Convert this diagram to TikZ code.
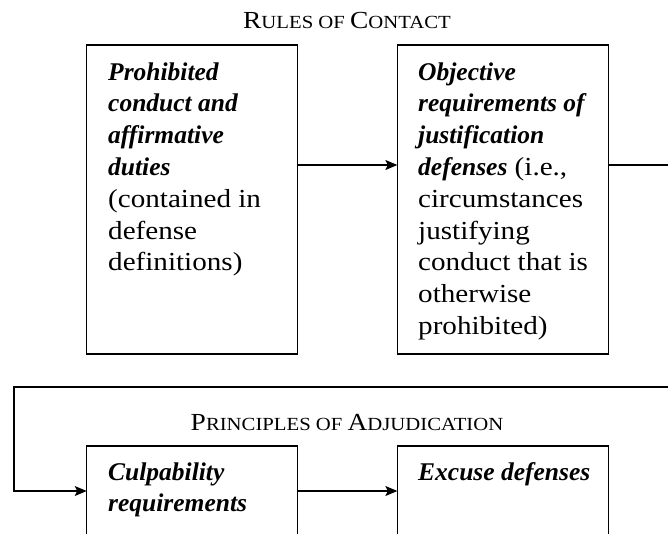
\documentclass[tikz,border=0pt]{standalone}
\usepackage{fontspec}
\setmainfont{Liberation Serif}[UprightFeatures={FakeStretch=1.12}]
\usetikzlibrary{arrows.meta}
\newcommand\bi[1]{{\fontsize{25.5}{31.8}\selectfont\bfseries\itshape #1}}
\newcommand\scbig[1]{{\fontsize{24.5}{30}\selectfont #1}}
\begin{document}
\begin{tikzpicture}[x=1pt,y=-1pt,
  box/.style={draw, line width=1.1pt, rectangle, inner sep=0pt, outer sep=0pt,
    minimum width=210.8pt, minimum height=309pt},
  txt/.style={anchor=base west, align=left, inner sep=0pt,
    font=\fontsize{26}{31.8}\selectfont},
  title/.style={anchor=base, inner sep=0pt, font=\fontsize{18.5}{22}\selectfont},
  arr/.style={line width=1.1pt, -{Stealth[length=12pt,width=10pt,inset=2.5pt]}}]
\clip (0,0) rectangle (668,533);
\node[box] (b1) at (192.1,199.5) {};
\node[box] (b2) at (502.75,199.5) {};
\node[box, minimum height=200pt] (b3) at (192.1,546) {};
\node[box, minimum height=200pt] (b4) at (502.75,546) {};
\node[title] (h1) at (347,28) {\scbig{R}ULES OF \scbig{C}ONTACT};
\node[title] (h2) at (347,430) {\scbig{P}RINCIPLES OF \scbig{A}DJUDICATION};
% anchor base = baseline of the last line (first line at y = 80 / 480)
\node[txt] (t1) at (108,270.8) {\bi{Prohibited}\\ \bi{conduct and}\\ \bi{affirmative}\\ \bi{duties}\\ (contained in\\ defense\\ definitions)};
\node[txt] (t2) at (418,334.4) {\bi{Objective}\\ \bi{requirements of}\\ \bi{justification}\\ \bi{defenses} (i.e.,\\ circumstances\\ justifying\\ conduct that is\\ otherwise\\ prohibited)};
\node[txt] (t3) at (108,511.8) {\bi{Culpability}\\ \bi{requirements}};
\node[txt] (t4) at (418,480) {\bi{Excuse defenses}};
\coordinate (r1) at (0,165);
\coordinate (r2) at (0,491);
\coordinate (loopR) at (671,165);
\coordinate (loopL) at (14,387);
\draw[arr] (b1.east |- r1) -- (b2.west |- r1);
\draw[arr] (b2.east |- r1) -- (loopR) |- (loopL) |- (b3.west |- r2);
\draw[arr] (b3.east |- r2) -- (b4.west |- r2);
\end{tikzpicture}
\end{document}
